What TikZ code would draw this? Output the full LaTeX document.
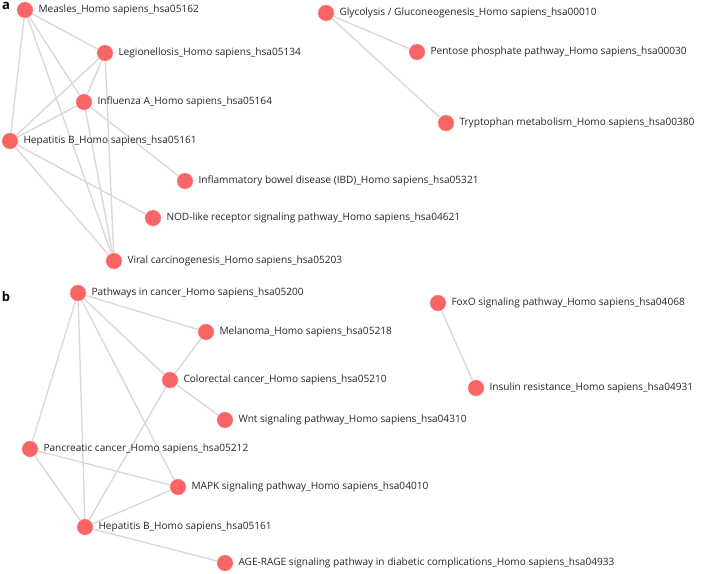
\documentclass[tikz,border=0pt]{standalone}
\usepackage{fontspec}
\setmainfont{Open Sans}
\usepackage{tikz}
\usetikzlibrary{positioning}

\definecolor{nodered}{HTML}{F96565}
\definecolor{edgegray}{HTML}{D9D9D9}

\tikzset{
  pathnode/.style={circle, fill=nodered, draw=nodered!40, line width=0.6pt, minimum size=16pt, inner sep=0pt},
  pathlabel/.style={font=\fontsize{10.1}{12}\selectfont, inner sep=0pt, text=black!85},
  link/.style={draw=edgegray, line width=1.4pt},
  panel/.style={font=\bfseries\fontsize{13}{14}\selectfont, inner sep=0pt}
}

\begin{document}
\begin{tikzpicture}[x=1pt, y=-1pt]
				\useasboundingbox (0,0) rectangle (708,573);
				\node[panel] (la) at (6,6) {a};
				\node[panel] (lb) at (6,297) {b};
				% panel a
				\node[pathnode] (MEA) at (25,10) {};
				\node[pathnode] (LEG) at (105,53) {};
				\node[pathnode] (INF) at (84,102) {};
				\node[pathnode] (HBA) at (10,141) {};
				\node[pathnode] (IBD) at (185,181) {};
				\node[pathnode] (NOD) at (153,218) {};
				\node[pathnode] (VIR) at (114,261) {};
				\node[pathnode] (GLY) at (326,13) {};
				\node[pathnode] (PEN) at (417,52) {};
				\node[pathnode] (TRP) at (446,123) {};
				% panel b
				\node[pathnode] (PIC) at (78,293) {};
				\node[pathnode] (MEL) at (206,332) {};
				\node[pathnode] (COL) at (170,380) {};
				\node[pathnode] (WNT) at (225,420) {};
				\node[pathnode] (PAN) at (30,449) {};
				\node[pathnode] (MAP) at (178,487) {};
				\node[pathnode] (HBB) at (85,527) {};
				\node[pathnode] (AGE) at (225,563) {};
				\node[pathnode] (FOX) at (438,303) {};
				\node[pathnode] (INS) at (476,388) {};
				% edges
				\draw[link] (MEA) -- (LEG);
				\draw[link] (MEA) -- (INF);
				\draw[link] (MEA) -- (HBA);
				\draw[link] (MEA) -- (VIR);
				\draw[link] (LEG) -- (INF);
				\draw[link] (LEG) -- (HBA);
				\draw[link] (LEG) -- (VIR);
				\draw[link] (INF) -- (HBA);
				\draw[link] (INF) -- (IBD);
				\draw[link] (INF) -- (VIR);
				\draw[link] (HBA) -- (NOD);
				\draw[link] (HBA) -- (VIR);
				\draw[link] (GLY) -- (PEN);
				\draw[link] (GLY) -- (TRP);
				\draw[link] (PIC) -- (MEL);
				\draw[link] (PIC) -- (COL);
				\draw[link] (PIC) -- (PAN);
				\draw[link] (PIC) -- (HBB);
				\draw[link] (PIC) -- (MAP);
				\draw[link] (MEL) -- (COL);
				\draw[link] (COL) -- (WNT);
				\draw[link] (COL) -- (HBB);
				\draw[link] (PAN) -- (MAP);
				\draw[link] (PAN) -- (HBB);
				\draw[link] (MAP) -- (HBB);
				\draw[link] (HBB) -- (AGE);
				\draw[link] (FOX) -- (INS);
				% redraw dots over the edges
				\foreach \n in {MEA,LEG,INF,HBA,IBD,NOD,VIR,GLY,PEN,TRP,PIC,MEL,COL,WNT,PAN,MAP,HBB,AGE,FOX,INS}
					\fill[nodered] (\n.center) circle (7.7pt);
				% labels
				\node[pathlabel] (tMEA) [right=5pt of MEA] {Measles\_Homo sapiens\_hsa05162};
				\node[pathlabel] (tLEG) [right=5pt of LEG] {Legionellosis\_Homo sapiens\_hsa05134};
				\node[pathlabel] (tINF) [right=5pt of INF] {Influenza A\_Homo sapiens\_hsa05164};
				\node[pathlabel] (tHBA) [right=5pt of HBA] {Hepatitis B\_Homo sapiens\_hsa05161};
				\node[pathlabel] (tIBD) [right=5pt of IBD] {Inflammatory bowel disease (IBD)\_Homo sapiens\_hsa05321};
				\node[pathlabel] (tNOD) [right=5pt of NOD] {NOD-like receptor signaling pathway\_Homo sapiens\_hsa04621};
				\node[pathlabel] (tVIR) [right=5pt of VIR] {Viral carcinogenesis\_Homo sapiens\_hsa05203};
				\node[pathlabel] (tGLY) [right=5pt of GLY] {Glycolysis / Gluconeogenesis\_Homo sapiens\_hsa00010};
				\node[pathlabel] (tPEN) [right=5pt of PEN] {Pentose phosphate pathway\_Homo sapiens\_hsa00030};
				\node[pathlabel] (tTRP) [right=5pt of TRP] {Tryptophan metabolism\_Homo sapiens\_hsa00380};
				\node[pathlabel] (tPIC) [right=5pt of PIC] {Pathways in cancer\_Homo sapiens\_hsa05200};
				\node[pathlabel] (tMEL) [right=5pt of MEL] {Melanoma\_Homo sapiens\_hsa05218};
				\node[pathlabel] (tCOL) [right=5pt of COL] {Colorectal cancer\_Homo sapiens\_hsa05210};
				\node[pathlabel] (tWNT) [right=5pt of WNT] {Wnt signaling pathway\_Homo sapiens\_hsa04310};
				\node[pathlabel] (tPAN) [right=5pt of PAN] {Pancreatic cancer\_Homo sapiens\_hsa05212};
				\node[pathlabel] (tMAP) [right=5pt of MAP] {MAPK signaling pathway\_Homo sapiens\_hsa04010};
				\node[pathlabel] (tHBB) [right=5pt of HBB] {Hepatitis B\_Homo sapiens\_hsa05161};
				\node[pathlabel] (tAGE) [right=5pt of AGE] {AGE-RAGE signaling pathway in diabetic complications\_Homo sapiens\_hsa04933};
				\node[pathlabel] (tFOX) [right=5pt of FOX] {FoxO signaling pathway\_Homo sapiens\_hsa04068};
				\node[pathlabel] (tINS) [right=5pt of INS] {Insulin resistance\_Homo sapiens\_hsa04931};
			\end{tikzpicture}
\end{document}
